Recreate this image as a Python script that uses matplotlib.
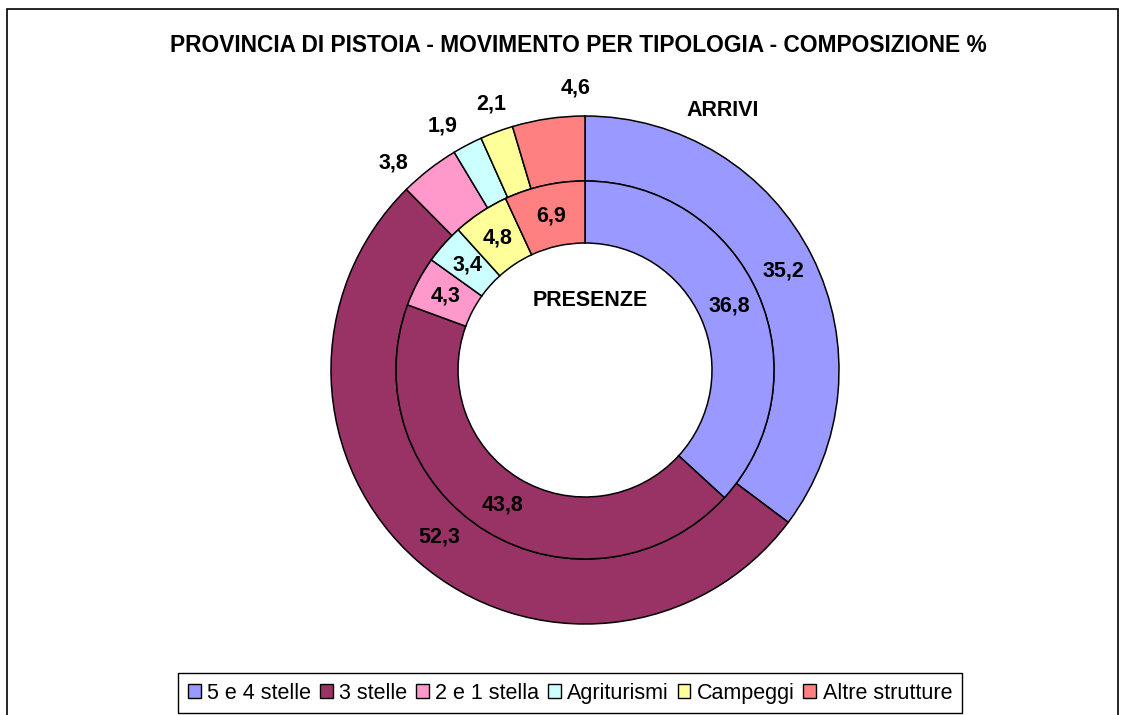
import numpy as np
import matplotlib.pyplot as plt
from matplotlib.patches import Rectangle, Patch

plt.rcParams['font.family'] = ['Liberation Sans', 'DejaVu Sans']

# dati (composizione %)
categorie = ['5 e 4 stelle', '3 stelle', '2 e 1 stella', 'Agriturismi', 'Campeggi', 'Altre strutture']
arrivi = [35.2, 52.3, 3.8, 1.9, 2.1, 4.6]
presenze = [36.8, 43.8, 4.3, 3.4, 4.8, 6.9]
colori = ['#9999FF', '#993366', '#FF99CC', '#CCFFFF', '#FFFF99', '#FF8080']

W, H = 1131, 715
fig = plt.figure(figsize=(W / 100, H / 100), dpi=100)
ax = fig.add_axes([0, 0, 1, 1])
ax.set_xlim(0, W)
ax.set_ylim(0, H)
ax.set_aspect('equal')
ax.axis('off')

# cornice del grafico
ax.add_patch(Rectangle((7, -20), 1111, H - 9 + 20, fill=False, ec='black', lw=1.2))

cx, cy = 585, H - 370
R = 254
r_mid = 189
r_hole = 127

wedge_style = dict(edgecolor='black', linewidth=1.1)
out_w, _ = ax.pie(arrivi, colors=colori, startangle=90, counterclock=False,
                  radius=R, center=(cx, cy), frame=True,
                  wedgeprops=dict(width=R - r_mid, **wedge_style))
in_w, _ = ax.pie(presenze, colors=colori, startangle=90, counterclock=False,
                 radius=r_mid, center=(cx, cy), frame=True,
                 wedgeprops=dict(width=r_mid - r_hole, **wedge_style))
ax.set_xlim(0, W)
ax.set_ylim(0, H)
ax.axis('off')

lab = dict(fontsize=15.5, fontweight='bold', ha='center', va='center')


def fmt(v):
    return ('%.1f' % v).replace('.', ',')


# etichette anello esterno (ARRIVI)
nudge = [0, 0, 5, 2.7, -0.9, -6.4]
for i, (w, v) in enumerate(zip(out_w, arrivi)):
    ang = np.deg2rad((w.theta1 + w.theta2) / 2 + nudge[i])
    rr = (R + r_mid) / 2 if v > 10 else R + 28
    ax.text(cx + rr * np.cos(ang), cy + rr * np.sin(ang), fmt(v), **lab)

# etichette anello interno (PRESENZE)
for w, v in zip(in_w, presenze):
    ang = np.deg2rad((w.theta1 + w.theta2) / 2)
    rr = (r_mid + r_hole) / 2
    ax.text(cx + rr * np.cos(ang), cy + rr * np.sin(ang), fmt(v), **lab)

ax.text(723, H - 110, 'ARRIVI', **lab)
ax.text(590, H - 300, 'PRESENZE', **lab)

ax.text(578, H - 45, 'PROVINCIA DI PISTOIA - MOVIMENTO PER TIPOLOGIA - COMPOSIZIONE %',
        fontsize=16.4, fontweight='bold', ha='center', va='center')

handles = [Patch(facecolor=c, edgecolor='black', linewidth=1) for c in colori]
fig.legend(handles, categorie, loc='upper center', bbox_to_anchor=(570 / W, 1 - 673 / H),
           ncol=6, fontsize=15.5, frameon=True, fancybox=False, edgecolor='black',
           framealpha=1, handlelength=0.6, handleheight=0.6, handletextpad=0.3,
           columnspacing=0.4, borderpad=0.45, borderaxespad=0)

fig.savefig('out.png', dpi=100)
